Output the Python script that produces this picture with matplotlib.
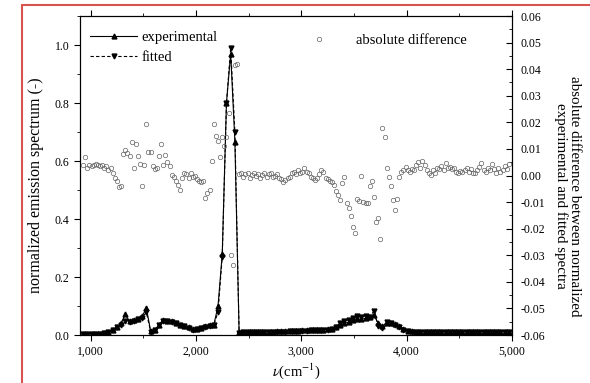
import matplotlib
matplotlib.use("Agg")
import matplotlib.pyplot as plt
import numpy as np
from matplotlib.patches import Rectangle
from matplotlib.ticker import MultipleLocator, FuncFormatter

plt.rcParams['font.family'] = ['Liberation Serif', 'DejaVu Serif']
plt.rcParams['mathtext.fontset'] = 'stix'

# spectrum sampled every 40 cm-1
wavenumber = np.arange(930, 4971, 40)
experimental = [
    0.005, 0.005, 0.005, 0.005, 0.005, 0.006, 0.010, 0.018, 0.028, 0.040,
    0.072, 0.047, 0.052, 0.056, 0.065, 0.092, 0.015, 0.018, 0.035, 0.052,
    0.050, 0.047, 0.042, 0.036, 0.030, 0.026, 0.020, 0.022, 0.025, 0.030,
    0.033, 0.035, 0.100, 0.280, 0.800, 0.970, 0.667, 0.010, 0.010, 0.010,
    0.010, 0.011, 0.011, 0.011, 0.012, 0.012, 0.013, 0.013, 0.013, 0.014,
    0.015, 0.015, 0.016, 0.016, 0.017, 0.017, 0.018, 0.019, 0.020, 0.022,
    0.027, 0.035, 0.040, 0.045, 0.051, 0.056, 0.054, 0.058, 0.062, 0.070,
    0.040, 0.030, 0.043, 0.042, 0.037, 0.030, 0.020, 0.015, 0.013, 0.012,
    0.012, 0.012, 0.012, 0.012, 0.012, 0.012, 0.012, 0.012, 0.012, 0.012,
    0.012, 0.012, 0.012, 0.012, 0.012, 0.012, 0.012, 0.012, 0.012, 0.012,
    0.012, 0.012,
]
fitted = [
    0.004, 0.004, 0.004, 0.004, 0.005, 0.006, 0.009, 0.017, 0.027, 0.035,
    0.048, 0.045, 0.050, 0.054, 0.060, 0.078, 0.012, 0.017, 0.034, 0.050,
    0.049, 0.046, 0.041, 0.035, 0.030, 0.025, 0.019, 0.021, 0.025, 0.029,
    0.032, 0.034, 0.080, 0.270, 0.800, 0.990, 0.700, 0.008, 0.009, 0.009,
    0.009, 0.010, 0.010, 0.010, 0.011, 0.011, 0.012, 0.012, 0.012, 0.013,
    0.014, 0.014, 0.015, 0.015, 0.016, 0.016, 0.017, 0.018, 0.019, 0.021,
    0.028, 0.042, 0.048, 0.052, 0.058, 0.064, 0.062, 0.066, 0.063, 0.083,
    0.030, 0.025, 0.045, 0.041, 0.036, 0.029, 0.019, 0.014, 0.012, 0.011,
    0.011, 0.011, 0.011, 0.011, 0.011, 0.011, 0.011, 0.011, 0.011, 0.011,
    0.011, 0.011, 0.011, 0.011, 0.011, 0.011, 0.011, 0.011, 0.011, 0.011,
    0.011, 0.011,
]

# difference curve sampled every 20 cm-1
diff_wavenumber = np.arange(930, 4971, 20)
abs_difference = [
    # 930 - 1290
    0.004, 0.007, 0.003, 0.004, 0.0035, 0.004, 0.0045, 0.004, 0.0035, 0.004,
    0.003, 0.0035, 0.002, 0.003, 0.001, -0.001, -0.002, -0.0045, -0.004,
    # 1310 - 1550
    0.008, 0.0095, 0.0085, 0.0075, 0.0125, 0.003, 0.012, 0.0075, 0.0045,
    -0.004, 0.004, 0.0195, 0.009,
    # 1570 - 2230
    0.009, 0.0035, 0.0025, 0.003, 0.0075, 0.012, 0.004, 0.0078, 0.005, 0.0035,
    0.0002, -0.0006, -0.002, -0.0035, -0.0055, -0.001, 0.001, 0.0005, -0.001,
    0.001, -0.0005, 0.0, -0.0015, -0.002, -0.0025, -0.002, -0.0085, -0.0065,
    -0.0055, 0.0055, 0.0195, 0.015, 0.013, 0.007,
    # 2250 - 2390
    0.0145, 0.011, 0.0145, 0.0235, -0.030, -0.0335, 0.0415, 0.042,
    # 2410 - 2990
    0.0005, 0.001, -0.0005, 0.0005, 0.001, -0.001, 0.0003, 0.0008, -0.0003,
    0.0006, -0.0008, 0.0002, 0.001, -0.0004, 0.0004, 0.0009, -0.0006, 0.0,
    0.0007, -0.001, -0.0015, -0.0023, -0.0018, -0.001, -0.0005, 0.0008,
    0.0012, 0.0005, 0.002, 0.001,
    # 3010 - 3270
    0.0015, 0.003, 0.0014, 0.001, -0.0005, -0.001, -0.0017, -0.001, 0.0005,
    0.002, 0.0015, -0.001, -0.0015, -0.002,
    # 3290 - 3650
    -0.0023, -0.0036, -0.006, -0.0075, -0.0092, -0.003, -0.0005, -0.0105,
    -0.0123, -0.0152, -0.0192, -0.0217, -0.009, -0.0095, 0.0, -0.0098,
    -0.0102, -0.0104, -0.004,
    # 3670 - 4070
    -0.002, -0.008, -0.0174, -0.016, -0.024, 0.0177, 0.0146, 0.0027, -0.0007,
    -0.004, -0.0092, -0.013, -0.009, -0.0005, 0.0012, 0.002, 0.0033, 0.002,
    0.0014, 0.0025, 0.002,
    # 4090 - 4970
    0.004, 0.005, 0.003, 0.0055, 0.004, 0.002, 0.0008, 0.0003, 0.002, 0.001,
    0.003, 0.0025, 0.0035, 0.002, 0.0047, 0.003, 0.0032, 0.0025, 0.003, 0.0015,
    0.001, 0.0018, 0.0012, 0.002, 0.0028, 0.0015, 0.0025, 0.001, 0.0008,
    0.002, 0.0033, 0.0046, 0.002, 0.0015, 0.003, 0.002, 0.0042, 0.0025,
    0.001, 0.003, 0.0012, 0.002, 0.0035, 0.0026, 0.0045,
]

fig = plt.figure(figsize=(5.9, 3.83), dpi=100)
ax = fig.add_axes([0.1356, 0.1253, 0.7322, 0.8329])
ax2 = ax.twinx()

l1, = ax.plot(wavenumber, experimental, '-', color='black', lw=0.8,
              marker='^', ms=3.5, label='experimental')
l2, = ax.plot(wavenumber, fitted, '--', color='black', lw=0.8,
              marker='v', ms=3.5, dashes=(3, 2), label='fitted')
l3, = ax2.plot(diff_wavenumber[:len(abs_difference)], abs_difference, 'o',
               mfc='none', mec='#666666', mew=0.5, ms=3.2,
               label='absolute difference')

ax.set_xlim(900, 5000)
ax.set_ylim(0, 1.1)
ax2.set_ylim(-0.06, 0.06)

ax.xaxis.set_major_locator(MultipleLocator(1000))
ax.xaxis.set_minor_locator(MultipleLocator(500))
ax.xaxis.set_major_formatter(FuncFormatter(lambda v, p: f'{int(v):,}'))
ax.yaxis.set_major_locator(MultipleLocator(0.2))
ax.yaxis.set_minor_locator(MultipleLocator(0.1))
ax.yaxis.set_major_formatter(FuncFormatter(lambda v, p: f'{v:.1f}'))
ax2.yaxis.set_major_locator(MultipleLocator(0.01))
ax2.yaxis.set_minor_locator(MultipleLocator(0.005))
ax2.yaxis.set_major_formatter(FuncFormatter(lambda v, p: f'{v:.2f}'))

ax.tick_params(axis='x', which='both', direction='out', top=True, labelsize=8.5)
ax.tick_params(axis='x', which='major', length=4)
ax.tick_params(axis='x', which='minor', length=2)
ax.tick_params(axis='y', which='major', direction='out', length=4, labelsize=8.5)
ax.tick_params(axis='y', which='minor', direction='out', length=2)
ax2.tick_params(axis='y', which='major', direction='in', length=4, labelsize=8.5, pad=6)
ax2.tick_params(axis='y', which='minor', direction='in', length=2)

ax.set_xlabel(r'$\nu$(cm$^{-1}$)', fontsize=10.5, labelpad=3)
ax.set_ylabel('normalized emission spectrum (-)', fontsize=11.5)
ax.yaxis.set_label_coords(-0.083, 0.47)
ax2.set_ylabel('absolute difference between normalized\nexperimental and fitted spectra',
               fontsize=10.8, rotation=270, linespacing=1.0)
ax2.yaxis.set_label_coords(1.16, 0.435)

ax.legend(handles=[l1, l2], loc='upper left', bbox_to_anchor=(0.0, 0.985),
          frameon=False, fontsize=10.5, handlelength=3.2, borderaxespad=0.3,
          handletextpad=0.3, labelspacing=0.45)
ax2.legend(handles=[l3], loc='upper right', bbox_to_anchor=(0.925, 0.985),
           frameon=False, fontsize=10.5, handlelength=3, handletextpad=1.0)

# red frame around the figure
fig.add_artist(Rectangle((22 / 590, -0.2), 1.2, 1.2 - 5 / 383,
                         transform=fig.transFigure, fill=False,
                         edgecolor='#d9534f', lw=1.5))

fig.savefig('out.png', dpi=100)
